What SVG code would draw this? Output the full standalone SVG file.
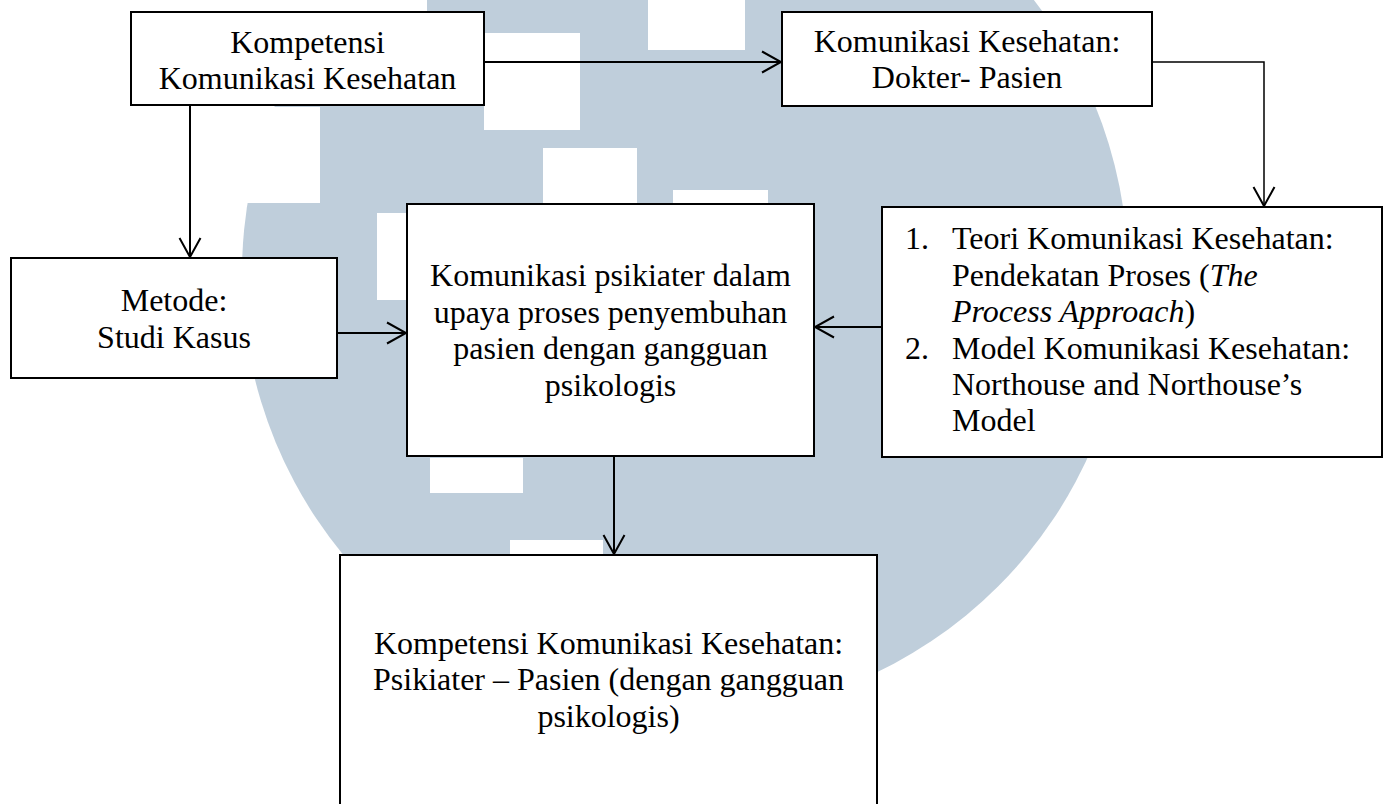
<svg xmlns="http://www.w3.org/2000/svg" width="1391" height="804" viewBox="0 0 1391 804">
<style>
.bg{fill:#ffffff}
.wm{fill:#bfcedb}
.hole{fill:#ffffff}
.box{fill:#ffffff;stroke:#000000;stroke-width:2}
.conn{fill:none;stroke:#000000;stroke-width:2}
.thin{stroke-width:1.5}
text{font-family:"Liberation Serif","Times New Roman",serif;font-size:32px;fill:#000000}
.c{text-anchor:middle}
</style>
<defs>
<marker id="arr" markerUnits="userSpaceOnUse" viewBox="-22 -12 24 24" markerWidth="24" markerHeight="24" refX="0" refY="0" orient="auto">
<path d="M-19,-10.5 L0,0 L-19,10.5" fill="none" stroke="#000000" stroke-width="2"/>
</marker>
</defs>
<rect class="bg" x="0" y="0" width="1391" height="804"/>
<g id="watermark">
<circle class="wm" cx="685" cy="273" r="443"/>
<rect class="hole" x="320" y="0" width="107" height="12"/>
<rect class="hole" x="230" y="107" width="90" height="96"/>
<rect class="hole" x="648" y="0" width="97" height="50"/>
<rect class="hole" x="484" y="33" width="96" height="97"/>
<rect class="hole" x="543" y="148" width="94" height="56"/>
<rect class="hole" x="673" y="190" width="95" height="14"/>
<rect class="hole" x="377" y="213" width="30" height="87"/>
<rect class="hole" x="430" y="458" width="93" height="35"/>
<rect class="hole" x="510" y="540" width="93" height="15"/>
</g>
<g id="connectors">
<path class="conn" d="M484,62 H781" marker-end="url(#arr)"/>
<path class="conn thin" d="M1152,62 H1264 V206" marker-end="url(#arr)"/>
<path class="conn" d="M190,105 V257" marker-end="url(#arr)"/>
<path class="conn" d="M337,333 H406" marker-end="url(#arr)"/>
<path class="conn" d="M882,327 H815" marker-end="url(#arr)"/>
<path class="conn" d="M614,456 V554" marker-end="url(#arr)"/>
</g>
<g id="node-kompetensi">
<rect class="box" x="131" y="12" width="353" height="93"/>
<text class="c" x="307.5" y="53">Kompetensi</text>
<text class="c" x="307.5" y="89">Komunikasi Kesehatan</text>
</g>
<g id="node-dokter">
<rect class="box" x="782" y="12" width="370" height="94"/>
<text class="c" x="967" y="52">Komunikasi Kesehatan:</text>
<text class="c" x="967" y="88">Dokter- Pasien</text>
</g>
<g id="node-metode">
<rect class="box" x="11" y="258" width="326" height="120"/>
<text class="c" x="174" y="311">Metode:</text>
<text class="c" x="174" y="348">Studi Kasus</text>
</g>
<g id="node-psikiater">
<rect class="box" x="407" y="204" width="407" height="252"/>
<text class="c" x="610.5" y="286">Komunikasi psikiater dalam</text>
<text class="c" x="610.5" y="323">upaya proses penyembuhan</text>
<text class="c" x="610.5" y="359">pasien dengan gangguan</text>
<text class="c" x="610.5" y="396">psikologis</text>
</g>
<g id="node-teori">
<rect class="box" x="882" y="207" width="500" height="250"/>
<text x="905" y="249">1.</text>
<text x="952" y="249">Teori Komunikasi Kesehatan:</text>
<text x="952" y="286">Pendekatan Proses (<tspan font-style="italic">The</tspan></text>
<text x="952" y="322"><tspan font-style="italic">Process Approach</tspan>)</text>
<text x="905" y="359">2.</text>
<text x="952" y="359">Model Komunikasi Kesehatan:</text>
<text x="952" y="395">Northouse and Northouse’s</text>
<text x="952" y="431">Model</text>
</g>
<g id="node-hasil">
<rect class="box" x="340" y="555" width="537" height="262"/>
<text class="c" x="608.5" y="654">Kompetensi Komunikasi Kesehatan:</text>
<text class="c" x="608.5" y="690">Psikiater – Pasien (dengan gangguan</text>
<text class="c" x="608.5" y="727">psikologis)</text>
</g>
</svg>
